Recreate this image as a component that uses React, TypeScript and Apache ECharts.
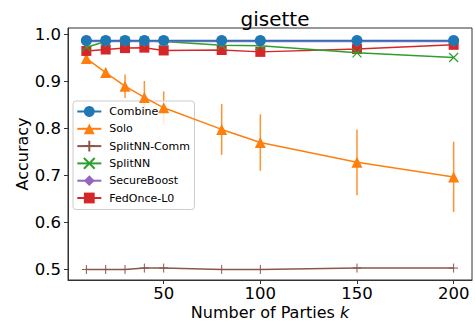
import React, { useEffect, useRef } from "react";
import * as echarts from "echarts";

const parties = [10, 20, 30, 40, 50, 80, 100, 150, 200];
const combine = [0.986, 0.986, 0.986, 0.986, 0.986, 0.986, 0.986, 0.986, 0.986];
const solo = [0.948, 0.918, 0.889, 0.865, 0.843, 0.797, 0.769, 0.727, 0.696];
const soloErr = [0.006, 0.01, 0.025, 0.035, 0.035, 0.054, 0.06, 0.07, 0.075];
const splitComm = [0.499, 0.499, 0.499, 0.502, 0.502, 0.499, 0.499, 0.502, 0.502];
const splitNN = [0.972, 0.984, 0.985, 0.985, 0.984, 0.976, 0.975, 0.960, 0.950];
const secureBoost = [0.984, 0.984, 0.984, 0.984, 0.984, 0.984, 0.984, 0.984, 0.984];
const fedOnce = [0.964, 0.967, 0.970, 0.971, 0.965, 0.966, 0.962, 0.968, 0.977];
const xTicks = [50, 100, 150, 200];
const yTicks = [0.5, 0.6, 0.7, 0.8, 0.9, 1.0];
const legendNames = ["Combine", "Solo", "SplitNN-Comm", "SplitNN", "SecureBoost", "FedOnce-L0"];

const FONT = "DejaVu Sans";
const X_PATH = "path://M0,0L10,10M10,0L0,10";
const PLUS_PATH = "path://M5,0L5,10M0,5L10,5";

export default function App() {
  const ref = useRef<HTMLDivElement>(null);
  useEffect(() => {
    if (!ref.current) return;
    const chart = echarts.init(ref.current, undefined, { renderer: "svg" });
    const pts = (ys: number[]) => parties.map((x, i) => [x, ys[i]]);
    const lineSeries = (name: string, ys: number[], color: string, symbol: string, size: number, z: number, extra: any = {}) => ({
      type: "line",
      name,
      data: pts(ys),
      symbol,
      symbolSize: size,
      z,
      lineStyle: { color, width: 1.5 },
      itemStyle: { color },
      emphasis: { disabled: true },
      ...extra,
    });
    const errData = parties.map((x, i) => [x, solo[i] - soloErr[i], solo[i] + soloErr[i]]);
    chart.setOption({
      animation: false,
      textStyle: { fontFamily: FONT },
      title: {
        text: "gisette",
        left: 270,
        textAlign: "center",
        top: 4,
        textStyle: { fontFamily: FONT, fontSize: 20, fontWeight: "normal", color: "#000" },
      },
      grid: { left: 68, right: 3, top: 28, bottom: 43, show: true, borderColor: "#333", borderWidth: 1, backgroundColor: "transparent", outerBoundsMode: "none", containLabel: false },
      legend: {
        data: legendNames,
        orient: "vertical",
        left: 73,
        top: 101,
        itemWidth: 24,
        itemHeight: 13.5,
        itemGap: 4.3,
        padding: [4, 4.5, 5, 3.3],
        backgroundColor: "rgba(255,255,255,0.8)",
        borderColor: "#ccc",
        borderWidth: 1,
        borderRadius: 3,
        textStyle: { fontFamily: FONT, fontSize: 11, lineHeight: 13, color: "#000", padding: [0, 0, 0, 3] },
      },
      xAxis: {
        type: "value",
        min: 0.5,
        max: 209.5,
        name: "Number of Parties {i|k}",
        nameLocation: "middle",
        nameGap: 24,
        nameMoveOverlap: false,
        nameTextStyle: { fontFamily: FONT, fontSize: 16, color: "#000", rich: { i: { fontStyle: "italic", fontFamily: FONT, fontSize: 16 } } },
        axisLine: { show: true, lineStyle: { color: "#333" } },
        axisTick: { show: true, length: 4, customValues: xTicks, lineStyle: { color: "#333" } },
        axisLabel: { customValues: xTicks, fontFamily: FONT, fontSize: 16.5, color: "#000", margin: 5 },
        splitLine: { show: false },
      },
      yAxis: {
        type: "value",
        min: 0.4766,
        max: 1.0128,
        name: "Accuracy",
        nameLocation: "middle",
        nameGap: 38,
        nameMoveOverlap: false,
        nameTextStyle: { fontFamily: FONT, fontSize: 16, color: "#000" },
        axisLine: { show: true, lineStyle: { color: "#333" } },
        axisTick: { show: true, length: 4, customValues: yTicks, lineStyle: { color: "#333" } },
        axisLabel: { customValues: yTicks, fontFamily: FONT, fontSize: 16.5, color: "#000", margin: 7, formatter: (v: number) => v.toFixed(1) },
        splitLine: { show: false },
      },
      series: [
        {
          type: "custom",
          name: "soloErr",
          data: errData,
          encode: { x: 0, y: [1, 2] },
          z: 3,
          renderItem: (params: any, api: any) => {
            const x = api.value(0);
            const p1 = api.coord([x, api.value(1)]);
            const p2 = api.coord([x, api.value(2)]);
            return {
              type: "line",
              shape: { x1: p1[0], y1: p1[1], x2: p2[0], y2: p2[1] },
              style: { stroke: "rgba(255,127,14,0.85)", lineWidth: 1.5 },
            };
          },
        },
        lineSeries("SplitNN-Comm", splitComm, "#8c564b", PLUS_PATH, 9, 4, {
          itemStyle: { color: "transparent", borderColor: "#8c564b", borderWidth: 1 },
        }),
        lineSeries("Solo", solo, "#ff7f0e", "triangle", 11, 4),
        lineSeries("FedOnce-L0", fedOnce, "#d62728", "rect", 10, 5),
        lineSeries("SplitNN", splitNN, "#2ca02c", X_PATH, 9, 6, {
          itemStyle: { color: "transparent", borderColor: "#2ca02c", borderWidth: 1.2 },
        }),
        lineSeries("SecureBoost", secureBoost, "#9467bd", "diamond", 11, 7),
        lineSeries("Combine", combine, "#1f77b4", "circle", 11, 8),
      ],
    });
    return () => chart.dispose();
  }, []);
  return <div ref={ref} style={{ position: "absolute", left: 0, top: 0, width: 475, height: 323 }} />;
}
